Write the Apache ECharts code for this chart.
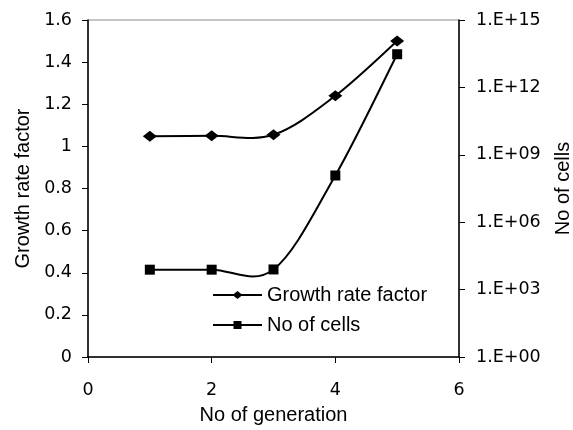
<!DOCTYPE html>
<html>
<head>
<meta charset="utf-8">
<script src="https://cdn.jsdelivr.net/npm/echarts@6/dist/echarts.min.js"></script>
<style>
  html, body { margin: 0; padding: 0; background: #fff; }
  #chart { width: 573px; height: 430px; }
</style>
</head>
<body>
<div id="chart"></div>
<script>
// Generation number for each measurement
const generations = [1, 2, 3, 4, 5];
// Growth rate factor per generation (left axis)
const growthRate = [1.048, 1.050, 1.055, 1.240, 1.500];
// Number of cells per generation (right, logarithmic axis)
const cellCount = [7.7e3, 7.7e3, 7.9e3, 1.2e8, 3.0e13];

const TITLE_FONT = '"Liberation Sans", Arial, sans-serif';
const TICK_FONT = '"DejaVu Sans", sans-serif';
const titleText = { color: '#000', fontFamily: TITLE_FONT, fontSize: 20 };
const tickText = { color: '#000', fontFamily: TICK_FONT, fontSize: 17.5 };

const growthPts = generations.map((g, i) => [g, growthRate[i]]);
const cellPts = generations.map((g, i) => [g, cellCount[i]]);

// Cardinal-spline segment (tension 1/6) between point i and i+1,
// converted to pixels through the cartesian coordinate system.
function splineSegment(pts) {
  return function (params, api) {
    const i = params.dataIndex;
    if (i >= pts.length - 1) return null;
    const c = k => api.coord(pts[Math.max(0, Math.min(pts.length - 1, k))]);
    const p0 = c(i - 1), p1 = c(i), p2 = c(i + 1), p3 = c(i + 2);
    return {
      type: 'bezierCurve',
      shape: {
        x1: p1[0], y1: p1[1],
        cpx1: p1[0] + (p2[0] - p0[0]) / 6, cpy1: p1[1] + (p2[1] - p0[1]) / 6,
        cpx2: p2[0] - (p3[0] - p1[0]) / 6, cpy2: p2[1] - (p3[1] - p1[1]) / 6,
        x2: p2[0], y2: p2[1]
      },
      style: { stroke: '#000', lineWidth: 2, fill: null }
    };
  };
}

// Legend glyphs: a short line with the series marker in its middle
const diamondIcon = 'path://M0 4H49V6H0Z M24.5 1L29.5 5 24.5 9 19.5 5Z M0 0.01H0.01V0.02H0Z M0 9.99H0.01V10H0Z';
const squareIcon = 'path://M0 4H49V6H0Z M20.5 1H28.5V9H20.5Z M0 0.01H0.01V0.02H0Z M0 9.99H0.01V10H0Z';

const chart = echarts.init(document.getElementById('chart'));
chart.setOption({
  animation: false,
  backgroundColor: '#fff',
  textStyle: { fontFamily: TITLE_FONT },
  grid: {
    left: 88, right: 114, top: 20, bottom: 73,
    outerBoundsMode: 'none',
    containLabel: false,
    show: true, borderColor: '#8c8c8c', borderWidth: 1, backgroundColor: '#fff'
  },
  legend: {
    orient: 'vertical',
    left: 213, top: 285,
    padding: 0,
    itemWidth: 49, itemHeight: 10, itemGap: 10,
    textStyle: titleText,
    data: [
      { name: 'Growth rate factor', icon: diamondIcon },
      { name: 'No of cells', icon: squareIcon }
    ]
  },
  xAxis: {
    type: 'value', min: 0, max: 6, interval: 2,
    name: 'No of generation', nameLocation: 'middle', nameGap: 48,
    nameTextStyle: titleText,
    axisLine: { lineStyle: { color: '#000', width: 1.5 } },
    axisTick: { show: true, inside: false, length: 6, lineStyle: { color: '#000' } },
    axisLabel: Object.assign({ margin: 24 }, tickText),
    splitLine: { show: false }
  },
  yAxis: [
    {
      type: 'value', min: 0, max: 1.6, interval: 0.2,
      name: 'Growth rate factor', nameLocation: 'middle', nameGap: 55, nameRotate: 90,
      nameTextStyle: titleText,
      axisLine: { show: true, lineStyle: { color: '#000', width: 1.5 } },
      axisTick: { show: true, inside: false, length: 6, lineStyle: { color: '#000' } },
      axisLabel: Object.assign({ margin: 16, formatter: v => String(+v.toFixed(1)) }, tickText),
      splitLine: { show: false }
    },
    {
      type: 'log', logBase: 10, min: 1, max: 1e15, interval: 3,
      position: 'right',
      name: 'No of cells', nameLocation: 'middle', nameGap: 94, nameRotate: 90,
      nameTextStyle: titleText,
      axisLine: { show: true, lineStyle: { color: '#000', width: 1.5 } },
      axisTick: { show: true, inside: false, length: 6, lineStyle: { color: '#000' } },
      axisLabel: Object.assign({
        margin: 17,
        formatter: v => {
          const e = Math.round(Math.log10(v));
          return '1.E+' + (e < 10 ? '0' + e : e);
        }
      }, tickText),
      splitLine: { show: false }
    }
  ],
  series: [
    {
      id: 'growthCurve', type: 'custom', yAxisIndex: 0, silent: true, z: 1,
      data: growthPts, encode: { x: 0, y: 1 },
      renderItem: splineSegment(growthPts)
    },
    {
      id: 'cellCurve', type: 'custom', yAxisIndex: 1, silent: true, z: 1,
      data: cellPts, encode: { x: 0, y: 1 },
      renderItem: splineSegment(cellPts)
    },
    {
      name: 'Growth rate factor', type: 'line', yAxisIndex: 0, z: 3,
      data: growthPts,
      symbol: 'diamond', symbolSize: [14, 11], showAllSymbol: true,
      itemStyle: { color: '#000' },
      lineStyle: { width: 0, opacity: 0 }
    },
    {
      name: 'No of cells', type: 'line', yAxisIndex: 1, z: 3,
      data: cellPts,
      symbol: 'rect', symbolSize: 10, showAllSymbol: true,
      itemStyle: { color: '#000' },
      lineStyle: { width: 0, opacity: 0 }
    }
  ]
});
</script>
</body>
</html>
